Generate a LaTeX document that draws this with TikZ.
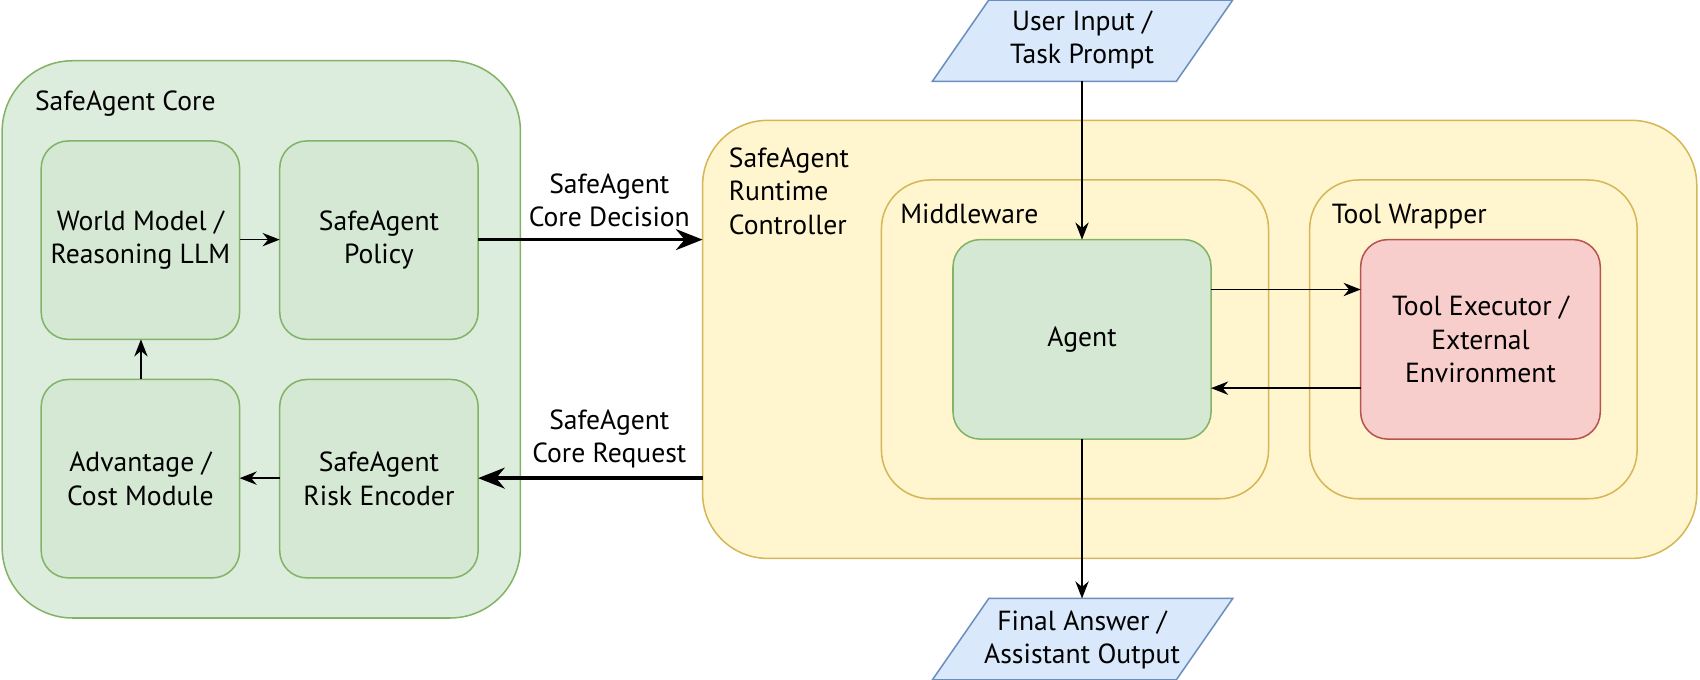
\documentclass[tikz,border=0pt]{standalone}
\usepackage{fontspec}
\setmainfont{PT Sans}
\usetikzlibrary{arrows.meta}
\definecolor{gfill}{HTML}{D5E8D4}\definecolor{gline}{HTML}{82B366}
\definecolor{yfill}{HTML}{FFF6CF}\definecolor{yline}{HTML}{D6B656}
\definecolor{rfill}{HTML}{F8CECC}\definecolor{rline}{HTML}{B85450}
\definecolor{bfill}{HTML}{DAE8FC}\definecolor{bline}{HTML}{6C8EBF}
\begin{document}
\begin{tikzpicture}[x=0.02cm,y=-0.02cm,font=\fontsize{14.5}{17.5}\selectfont,
  box/.style={draw=gline,fill=gfill,rounded corners=0.5cm,line width=0.8pt},
  ybox/.style={draw=yline,fill=yfill,line width=0.8pt},
  lbl/.style={anchor=north west,align=left,inner sep=0pt},
  txt/.style={align=center},
  arr/.style={-{Stealth[length=9pt,width=7pt]},line width=0.8pt},
  thick arr/.style={-{Stealth[length=14pt,width=11pt]},line width=1.8pt}]
\useasboundingbox (0,0) rectangle (1568,627);
% core
\draw[draw=gline,fill=gfill!80!white,rounded corners=1.3cm,line width=0.8pt] (2,56) rectangle (480,570);
\node[lbl] at (32,83) {SafeAgent Core};
\draw[box] (38,130) rectangle (221,313); \node[txt] (wm) at (129.5,221.5) {World Model /\\Reasoning LLM};
\draw[box] (258,130) rectangle (441,313); \node[txt] (pol) at (349.5,221.5) {SafeAgent\\Policy};
\draw[box] (38,350) rectangle (221,533); \node[txt] (adv) at (129.5,441.5) {Advantage /\\Cost Module};
\draw[box] (258,350) rectangle (441,533); \node[txt] (risk) at (349.5,441.5) {SafeAgent\\Risk Encoder};
\coordinate (wmE) at (221,221); \coordinate (polW) at (258,221);
\coordinate (advN) at (130,350); \coordinate (wmS) at (130,313);
\coordinate (riskW) at (258,441); \coordinate (advE) at (221,441);
\draw[arr] (wmE) -- (polW);
\draw[arr] (advN) -- (wmS);
\draw[arr] (riskW) -- (advE);
% runtime
\draw[ybox,rounded corners=1.2cm] (648,111) rectangle (1565,515);
\node[lbl] at (672,136) {SafeAgent\\Runtime\\Controller};
\draw[ybox,rounded corners=0.9cm] (813,166) rectangle (1170,460);
\node[lbl] at (830,188) {Middleware};
\draw[ybox,rounded corners=0.9cm] (1208,166) rectangle (1510,460);
\node[lbl] at (1228,188) {Tool Wrapper};
\draw[box] (879,221) rectangle (1117,405); \node[txt] (agent) at (998,313) {Agent};
\draw[draw=rline,fill=rfill,rounded corners=0.5cm,line width=0.8pt] (1255,221) rectangle (1476,405);
\node[txt] (tool) at (1365.5,313) {Tool Executor /\\External\\Environment};
% io
\draw[draw=bline,fill=bfill,line width=0.8pt] (860,75) -- (912,0) -- (1137,0) -- (1085,75) -- cycle;
\node[txt] (user) at (998,37) {User Input /\\Task Prompt};
\draw[draw=bline,fill=bfill,line width=0.8pt] (860,627) -- (912,552) -- (1137,552) -- (1085,627) -- cycle;
\node[txt] (final) at (998,590) {Final Answer /\\Assistant Output};
\coordinate (userS) at (998,75); \coordinate (agN) at (998,221);
\coordinate (agS) at (998,405); \coordinate (finN) at (998,552);
\coordinate (ag1) at (1117,267); \coordinate (tl1) at (1255,267);
\coordinate (tl2) at (1255,358); \coordinate (ag2) at (1117,358);
\draw[arr] (userS) -- (agN);
\draw[arr] (agS) -- (finN);
\draw[arr] (ag1) -- (tl1);
\draw[arr] (tl2) -- (ag2);
% thick
\coordinate (polE) at (441,221); \coordinate (rtW1) at (648,221);
\coordinate (rtW2) at (648,441); \coordinate (riskE) at (441,441);
\draw[thick arr] (polE) -- (rtW1);
\draw[thick arr] (rtW2) -- (riskE);
\node[txt] (dec) at (562,185) {SafeAgent\\Core Decision};
\node[txt] (req) at (562,405) {SafeAgent\\Core Request};
\end{tikzpicture}
\end{document}
